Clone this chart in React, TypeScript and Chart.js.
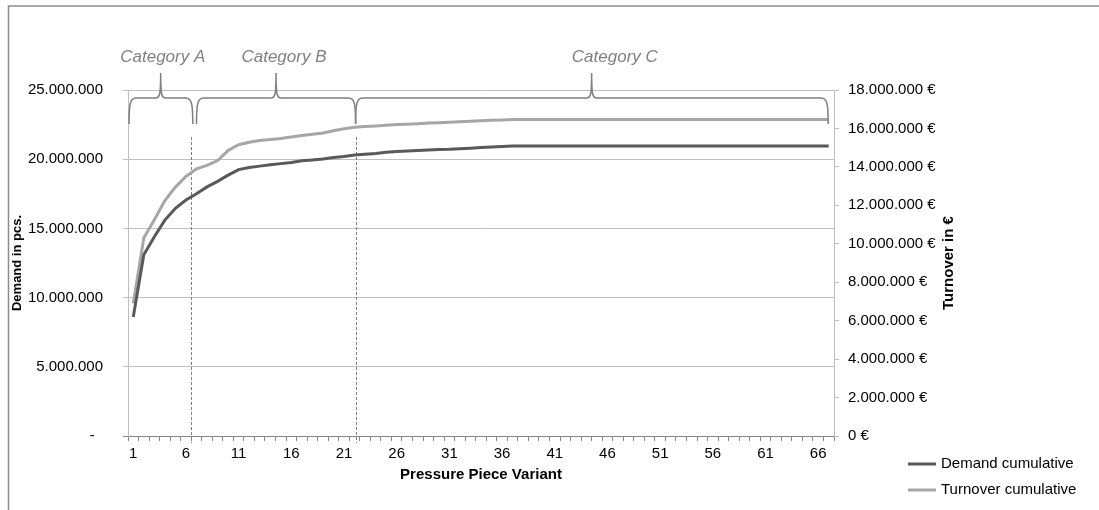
import { useEffect, useRef } from "react";
import { Chart, registerables } from "chart.js";

Chart.register(...registerables);

const FONT = "'Liberation Sans', Arial, Helvetica, sans-serif";

const variants = [
  "1", "2", "3", "4", "5", "6", "7", "8", "9", "10",
  "11", "12", "13", "14", "15", "16", "17", "18", "19", "20",
  "21", "22", "23", "24", "25", "26", "27", "28", "29", "30",
  "31", "32", "33", "34", "35", "36", "37", "38", "39", "40",
  "41", "42", "43", "44", "45", "46", "47", "48", "49", "50",
  "51", "52", "53", "54", "55", "56", "57", "58", "59", "60",
  "61", "62", "63", "64", "65", "66", "67",
];

// Demand cumulative, in million pieces
const demandCumulative = [
  8.6, 13.1, 14.4, 15.6, 16.45, 17.05, 17.5, 18.0, 18.4, 18.85,
  19.25, 19.4, 19.5, 19.6, 19.68, 19.76, 19.88, 19.95, 20.02, 20.12,
  20.2, 20.3, 20.36, 20.42, 20.5, 20.55, 20.6, 20.63, 20.66, 20.7,
  20.72, 20.76, 20.8, 20.84, 20.88, 20.92, 20.95, 20.95, 20.95, 20.95,
  20.95, 20.95, 20.95, 20.95, 20.95, 20.95, 20.95, 20.95, 20.95, 20.95,
  20.95, 20.95, 20.95, 20.95, 20.95, 20.95, 20.95, 20.95, 20.95, 20.95,
  20.95, 20.95, 20.95, 20.95, 20.95, 20.95, 20.95,
];

// Turnover cumulative, in million €
const turnoverCumulative = [
  6.9, 10.3, 11.25, 12.25, 12.95, 13.5, 13.9, 14.08, 14.33, 14.85,
  15.15, 15.28, 15.37, 15.43, 15.48, 15.55, 15.63, 15.7, 15.76, 15.88,
  15.98, 16.06, 16.1, 16.13, 16.17, 16.2, 16.22, 16.25, 16.28, 16.3,
  16.32, 16.35, 16.38, 16.4, 16.42, 16.44, 16.46, 16.46, 16.46, 16.46,
  16.46, 16.46, 16.46, 16.46, 16.46, 16.46, 16.46, 16.46, 16.46, 16.46,
  16.46, 16.46, 16.46, 16.46, 16.46, 16.46, 16.46, 16.46, 16.46, 16.46,
  16.46, 16.46, 16.46, 16.46, 16.46, 16.46, 16.46,
];

const seriesNames = ["Demand cumulative", "Turnover cumulative"];
const seriesColors = ["#595959", "#A6A6A6"];
const rightAxisTitle = "Turnover in €";

// Category brackets (in x-axis index units)
const categoryNames = ["Category A", "Category B", "Category C"];
const braceStart = [-0.4, 6.0, 21.1];
const braceEnd = [5.65, 21.1, 65.95];
const bracePeak = [2.6, 13.55, 43.5];
const categoryLabelPos = [2.8, 14.3, 45.7];
const dividerPositions = [5.5, 21.1];

const leftTicksMax = 25;
const leftTickStep = 5;
const rightTicksMax = 18;
const rightTickStep = 2;

function fmt(v: number): string {
  const n = String(Math.round(v * 1000000));
  return n.replace(/\B(?=(\d{3})+(?!\d))/g, ".");
}

function drawBrace(ctx: CanvasRenderingContext2D, x1: number, x2: number, xp: number, yTop: number, yMid: number, yBot: number) {
  const r = 7;
  ctx.beginPath();
  ctx.moveTo(x1, yBot);
  ctx.bezierCurveTo(x1, yMid + 6, x1 + 1, yMid, x1 + r, yMid);
  ctx.lineTo(xp - 5, yMid);
  ctx.bezierCurveTo(xp - 1, yMid, xp, yMid - 3, xp, yTop);
  ctx.bezierCurveTo(xp, yMid - 3, xp + 1, yMid, xp + 5, yMid);
  ctx.lineTo(x2 - r, yMid);
  ctx.bezierCurveTo(x2 - 1, yMid, x2, yMid + 6, x2, yBot);
  ctx.stroke();
}

const overlayPlugin = {
  id: "overlay",
  beforeDatasetsDraw(chart: any) {
    const { ctx, chartArea } = chart;
    const x = chart.scales.x;
    ctx.save();
    ctx.strokeStyle = "#7F7F7F";
    ctx.lineWidth = 1;
    ctx.setLineDash([3, 2]);
    dividerPositions.forEach((v) => {
      const px = Math.round(x.getPixelForValue(v)) + 0.5;
      ctx.beginPath();
      ctx.moveTo(px, chartArea.top + 47);
      ctx.lineTo(px, chartArea.bottom + 7);
      ctx.stroke();
    });
    ctx.restore();
  },
  afterDraw(chart: any) {
    const { ctx, chartArea, width, height } = chart;
    const x = chart.scales.x;
    const top = chartArea.top;
    ctx.save();
    // outer frame (top and left edges)
    ctx.strokeStyle = "#8C8C8C";
    ctx.lineWidth = 1.5;
    ctx.beginPath();
    ctx.moveTo(8.5, height);
    ctx.lineTo(8.5, 6);
    ctx.lineTo(width, 6);
    ctx.stroke();

    // braces
    ctx.strokeStyle = "#7F7F7F";
    ctx.lineWidth = 1.5;
    for (let i = 0; i < categoryNames.length; i++) {
      drawBrace(
        ctx,
        x.getPixelForValue(braceStart[i]),
        x.getPixelForValue(braceEnd[i]),
        x.getPixelForValue(bracePeak[i]),
        top - 17,
        top + 8,
        top + 34
      );
    }
    // category labels
    ctx.fillStyle = "#808080";
    ctx.font = `italic 17px ${FONT}`;
    ctx.textAlign = "center";
    ctx.textBaseline = "middle";
    for (let i = 0; i < categoryNames.length; i++) {
      ctx.fillText(categoryNames[i], x.getPixelForValue(categoryLabelPos[i]), top - 33);
    }

    // right axis title, reading bottom-to-top
    ctx.save();
    ctx.fillStyle = "#000";
    ctx.font = `bold 15px ${FONT}`;
    ctx.translate(chartArea.right + 115, (chartArea.top + chartArea.bottom) / 2);
    ctx.rotate(-Math.PI / 2);
    ctx.textAlign = "center";
    ctx.textBaseline = "middle";
    ctx.fillText(rightAxisTitle, 0, 0);
    ctx.restore();

    // legend
    ctx.font = `15px ${FONT}`;
    ctx.textAlign = "left";
    ctx.textBaseline = "middle";
    ctx.fillStyle = "#000";
    const lx = chartArea.right + 74;
    for (let i = 0; i < seriesNames.length; i++) {
      const ly = chartArea.bottom + 28 + i * 26;
      ctx.strokeStyle = seriesColors[i];
      ctx.lineWidth = 3;
      ctx.beginPath();
      ctx.moveTo(lx, ly);
      ctx.lineTo(lx + 28, ly);
      ctx.stroke();
      ctx.fillText(seriesNames[i], lx + 33, ly);
    }
    ctx.restore();
  },
};

export default function App() {
  const canvasRef = useRef<HTMLCanvasElement | null>(null);

  useEffect(() => {
    document.body.style.margin = "0";
    const canvas = canvasRef.current;
    if (!canvas) return;
    const chart = new Chart(canvas, {
      type: "line",
      data: {
        labels: variants,
        datasets: [
          {
            label: seriesNames[0],
            data: demandCumulative,
            yAxisID: "y",
            borderColor: seriesColors[0],
            backgroundColor: seriesColors[0],
            borderWidth: 3,
            pointRadius: 0,
            tension: 0,
          },
          {
            label: seriesNames[1],
            data: turnoverCumulative,
            yAxisID: "y1",
            borderColor: seriesColors[1],
            backgroundColor: seriesColors[1],
            borderWidth: 3,
            pointRadius: 0,
            tension: 0,
          },
        ],
      },
      options: {
        animation: false,
        responsive: false,
        layout: { padding: { left: 0, right: 135, top: 90, bottom: 0 } },
        plugins: {
          legend: { display: false },
          tooltip: { enabled: false },
        },
        scales: {
          x: {
            type: "category",
            offset: true,
            grid: { offset: true, drawOnChartArea: false, color: "#868686", tickLength: 5 },
            border: { color: "#868686", width: 1 },
            ticks: {
              autoSkip: false,
              maxRotation: 0,
              minRotation: 0,
              padding: 4,
              color: "#000",
              font: { family: FONT, size: 15 },
              callback: (_v: any, i: number) => (i % 5 === 0 ? variants[i] : ""),
            },
            title: {
              display: true,
              text: "Pressure Piece Variant",
              color: "#000",
              font: { family: FONT, size: 15, weight: "bold" },
              padding: { top: 0, bottom: 26 },
            },
            afterFit: (s: any) => {
              s.height = 74;
            },
          },
          y: {
            position: "left",
            min: 0,
            max: leftTicksMax,
            grid: {
              color: (c: any) => (c.tick && c.tick.value === 0 ? "#868686" : "#BFBFBF"),
              tickLength: 5,
            },
            border: { color: "#BFBFBF", width: 1 },
            ticks: {
              stepSize: leftTickStep,
              padding: 20,
              color: "#000",
              font: { family: FONT, size: 15 },
              callback: (v: any) => (Number(v) === 0 ? "-  " : fmt(Number(v))),
            },
            title: {
              display: true,
              text: "Demand in pcs.",
              color: "#000",
              font: { family: FONT, size: 13, weight: "bold" },
              padding: { top: 10, bottom: 0 },
            },
            afterFit: (s: any) => {
              s.width = 128;
            },
          },
          y1: {
            position: "right",
            min: 0,
            max: rightTicksMax,
            grid: { drawOnChartArea: false, color: "#BFBFBF", tickLength: 5 },
            border: { color: "#BFBFBF", width: 1 },
            ticks: {
              stepSize: rightTickStep,
              padding: 9,
              color: "#000",
              font: { family: FONT, size: 15 },
              callback: (v: any) => fmt(Number(v)) + " €",
            },
            title: { display: false },
            afterFit: (s: any) => {
              s.width = 130;
            },
          },
        },
      } as any,
      plugins: [overlayPlugin],
    });
    return () => {
      chart.destroy();
    };
  }, []);

  return (
    <div style={{ width: 1099, height: 510, position: "relative" }}>
      <canvas ref={canvasRef} width={1099} height={510} style={{ display: "block" }} />
    </div>
  );
}
